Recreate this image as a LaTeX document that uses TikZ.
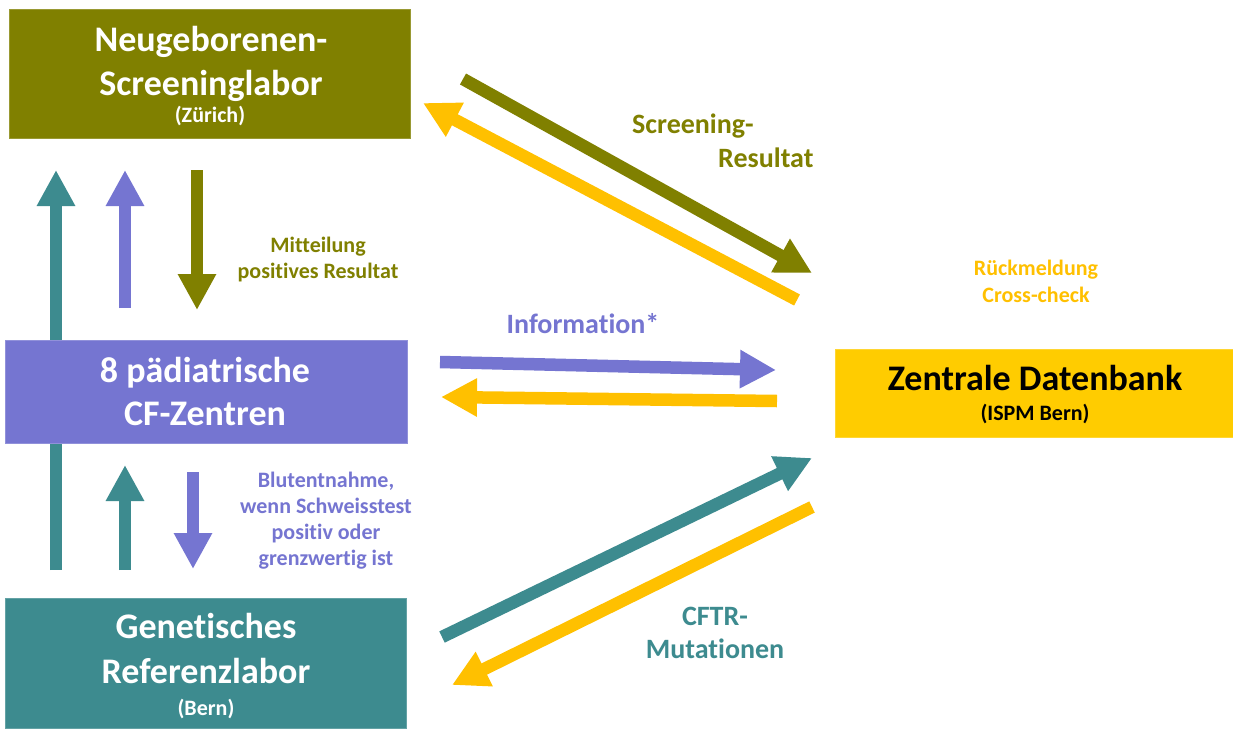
\documentclass[tikz,border=0pt]{standalone}
\usepackage{fontspec}
\setmainfont{Carlito}[Ligatures=NoCommon]
\usetikzlibrary{arrows.meta}
\definecolor{olv}{RGB}{128,128,0}
\definecolor{pur}{RGB}{117,117,209}
\definecolor{tel}{RGB}{61,139,143}
\definecolor{gld}{RGB}{255,204,0}
\definecolor{ylw}{RGB}{255,192,0}
\begin{document}
\begin{tikzpicture}[x=1pt,y=-1pt,
  box/.style={rectangle, inner sep=0pt, draw=#1!80!white, line width=0.6pt, fill=#1},
  boxtxt/.style={anchor=base, inner sep=0pt, align=center, text=white, font=\bfseries\fontsize{36}{44}\selectfont},
  subtxt/.style={anchor=base, inner sep=0pt, text=white, font=\bfseries\fontsize{22}{26}\selectfont},
  flow/.style={line width=12.5pt, line cap=butt, -{Triangle[length=36pt,width=36pt]}},
  lab/.style={anchor=base, inner sep=0pt, align=center, font=\bfseries\fontsize{22}{26}\selectfont},
  biglab/.style={anchor=base, inner sep=0pt, align=center, font=\bfseries\fontsize{28}{33}\selectfont}]
\useasboundingbox (0,0) rectangle (1233,728);
\fill[white] (0,0) rectangle (1233,728);

% arrow end points
\coordinate (t1s) at (56,570);  \coordinate (t1e) at (56,170);
\coordinate (p1s) at (125,308); \coordinate (p1e) at (125,170);
\coordinate (o1s) at (197,170); \coordinate (o1e) at (197,310);
\coordinate (t2s) at (125,570); \coordinate (t2e) at (125,465);
\coordinate (p2s) at (193,472); \coordinate (p2e) at (193,569);
\coordinate (o2s) at (463,79);  \coordinate (o2e) at (812,273);
\coordinate (y1s) at (797,300); \coordinate (y1e) at (423,103);
\coordinate (p3s) at (440,362); \coordinate (p3e) at (776,370);
\coordinate (y2s) at (777,401); \coordinate (y2e) at (441,397);
\coordinate (t3s) at (442,637); \coordinate (t3e) at (812,458);
\coordinate (y3s) at (812,507); \coordinate (y3e) at (452,685);

% arrows
\draw[flow, tel] (t1s) -- (t1e);
\draw[flow, pur] (p1s) -- (p1e);
\draw[flow, olv] (o1s) -- (o1e);
\draw[flow, tel] (t2s) -- (t2e);
\draw[flow, pur] (p2s) -- (p2e);
\draw[flow, olv] (o2s) -- (o2e);
\draw[flow, ylw] (y1s) -- (y1e);
\draw[flow, pur] (p3s) -- (p3e);
\draw[flow, ylw] (y2s) -- (y2e);
\draw[flow, tel] (t3s) -- (t3e);
\draw[flow, ylw] (y3s) -- (y3e);

% boxes
\node[box=olv, minimum width=401pt, minimum height=129pt] (nsl) at (209.5,73.5) {};
\node[box=pur, minimum width=402pt, minimum height=103pt] (cfz) at (206,391.5) {};
\node[box=tel, minimum width=401pt, minimum height=130pt] (grl) at (205.5,663) {};
\node[box=gld, minimum width=398pt, minimum height=88pt] (zdb) at (1034,393) {};

% box texts (anchor = baseline of last line)
\node[boxtxt] (nslt) at (211,95) {Neugeborenen-\\Screeninglabor};
\node[subtxt] (nsls) at (210,122) {(Zürich)};
\node[boxtxt, font=\bfseries\fontsize{36}{43}\selectfont] (cfzt) at (205,425) {8 pädiatrische\\CF-Zentren};
\node[boxtxt, font=\bfseries\fontsize{36}{45}\selectfont] (grlt) at (206,683) {Genetisches\\Referenzlabor};
\node[subtxt] (grls) at (206,715) {(Bern)};
\node[boxtxt, text=black] (zdbt) at (1035,390) {Zentrale Datenbank};
\node[subtxt, text=black] (zdbs) at (1035,420) {(ISPM Bern)};

% labels
\node[lab, text=olv] (l1) at (318,278) {Mitteilung\\positives Resultat};
\node[lab, text=pur] (l2) at (326,565) {Blutentnahme,\\wenn Schweisstest\\positiv oder\\grenzwertig ist};
\node[biglab, text=olv, anchor=base west, align=left] (l3) at (632,167) {Screening-\\[1pt]\hspace*{86pt}Resultat};
\node[biglab, text=pur] (l4) at (583,333) {Information*};
\node[lab, text=ylw, font=\bfseries\fontsize{22}{27}\selectfont] (l5) at (1036,302) {Rückmeldung\\Cross-check};
\node[biglab, text=tel] (l6) at (715,658) {CFTR-\\Mutationen};
\end{tikzpicture}
\end{document}
